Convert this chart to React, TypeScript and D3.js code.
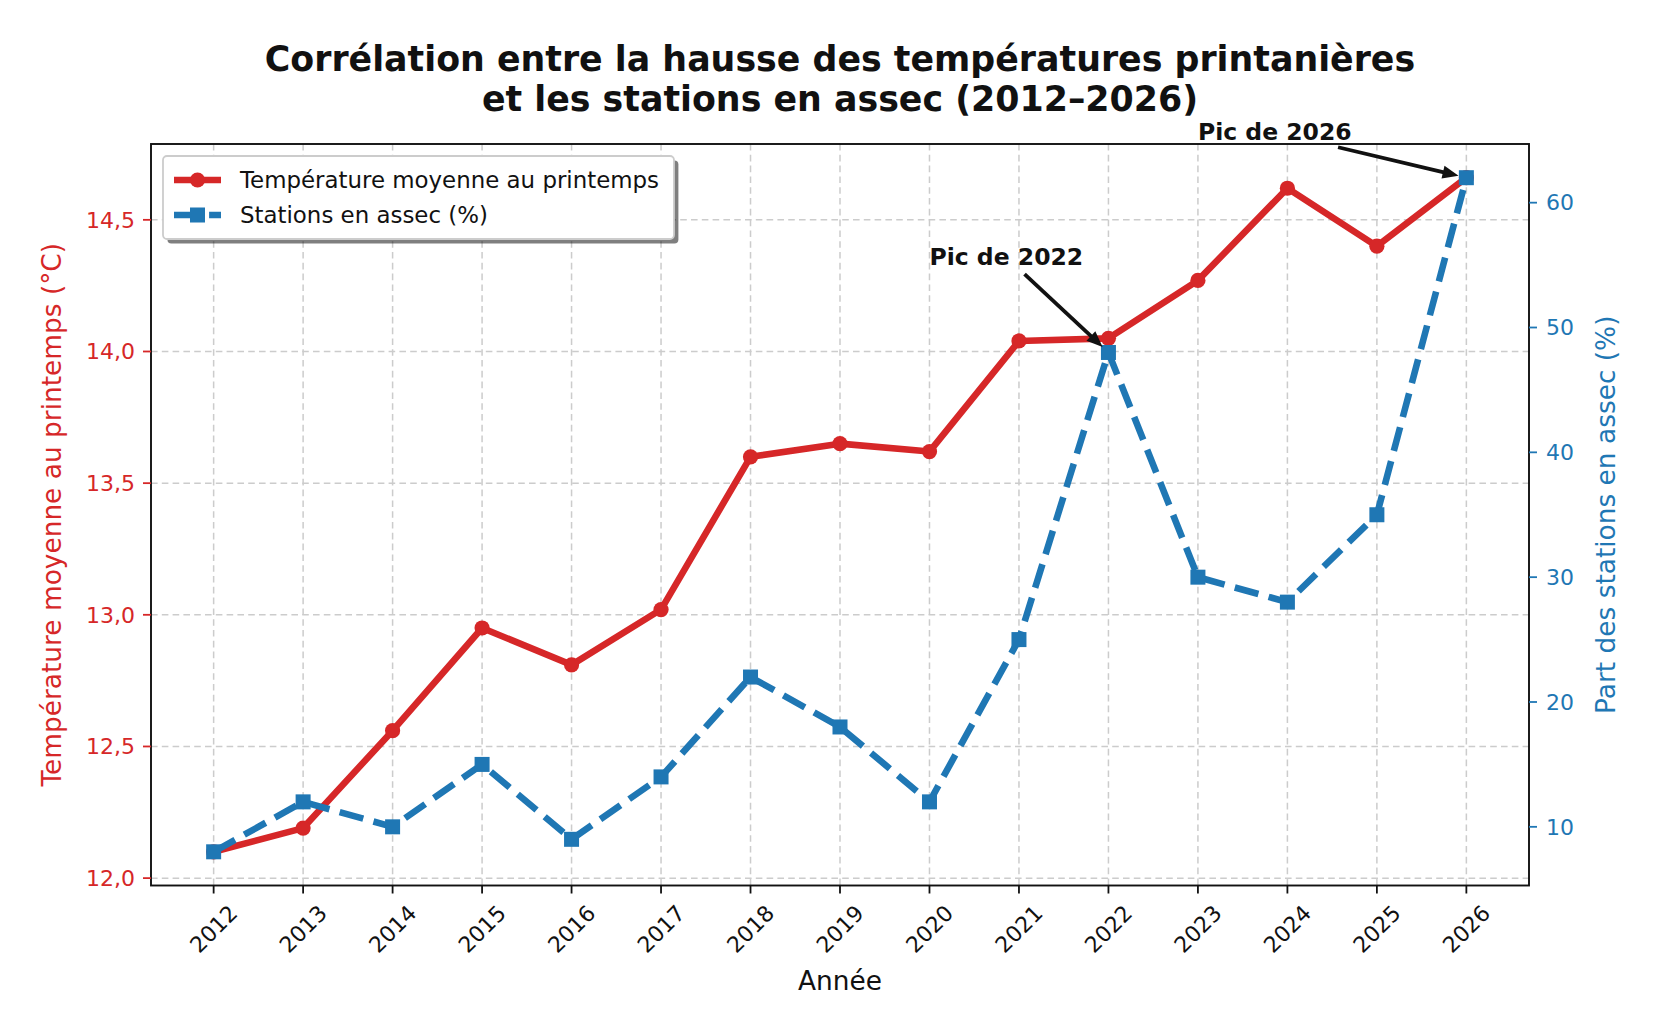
import { useRef, useEffect } from 'react'
import * as d3 from 'd3'

const years = [2012, 2013, 2014, 2015, 2016, 2017, 2018, 2019, 2020, 2021, 2022, 2023, 2024, 2025, 2026]
const temperatures = [12.1, 12.19, 12.56, 12.95, 12.81, 13.02, 13.6, 13.65, 13.62, 14.04, 14.05, 14.27, 14.62, 14.4, 14.66]
const dryStations = [8, 12, 10, 15, 9, 14, 22, 18, 12, 25, 48, 30, 28, 35, 62]
const tempTicks = [12.0, 12.5, 13.0, 13.5, 14.0, 14.5]
const dryTicks = [10, 20, 30, 40, 50, 60]
const titleLines = ['Corrélation entre la hausse des températures printanières', 'et les stations en assec (2012–2026)']
const seriesLabels = ['Température moyenne au printemps', 'Stations en assec (%)']
const annotations = [
  { label: 'Pic de 2022', year: 2022, value: 48, textYear: 2020, textValue: 55 },
  { label: 'Pic de 2026', year: 2026, value: 62, textYear: 2023, textValue: 65 },
]

const W = 1680
const H = 1030
const RED = '#d62728'
const BLUE = '#1f77b4'
const FONT = '"DejaVu Sans", Verdana, sans-serif'

// matplotlib-like 5% margins
function padded(values: number[]): [number, number] {
  const lo = d3.min(values) ?? 0
  const hi = d3.max(values) ?? 1
  const m = (hi - lo) * 0.05
  return [lo - m, hi + m]
}

export default function App() {
  const svgRef = useRef<SVGSVGElement>(null)

  useEffect(() => {
    if (!svgRef.current) return
    const svg = d3.select(svgRef.current)
    svg.selectAll('*').remove()

    const left = 151
    const right = 1529
    const top = 144
    const bottom = 885.5

    const x = d3.scaleLinear().domain(padded(years)).range([left, right])
    const yT = d3.scaleLinear().domain(padded(temperatures)).range([bottom, top])
    const yD = d3.scaleLinear().domain(padded(dryStations)).range([bottom, top])

    svg.append('rect').attr('width', W).attr('height', H).attr('fill', '#fff')

    // Grid
    const grid = svg.append('g').attr('stroke', '#cccccc').attr('stroke-width', 1.5).attr('stroke-dasharray', '6.6,4.2')
    years.forEach((yr) => {
      grid.append('line').attr('x1', x(yr)).attr('x2', x(yr)).attr('y1', top).attr('y2', bottom)
    })
    tempTicks.forEach((t) => {
      grid.append('line').attr('x1', left).attr('x2', right).attr('y1', yT(t)).attr('y2', yT(t))
    })

    // Temperature line
    const tempLine = d3
      .line<number>()
      .x((_, i) => x(years[i]))
      .y((d) => yT(d))
    svg
      .append('path')
      .datum(temperatures)
      .attr('fill', 'none')
      .attr('stroke', RED)
      .attr('stroke-width', 6.6)
      .attr('stroke-linejoin', 'round')
      .attr('d', tempLine)
    svg
      .append('g')
      .selectAll('circle')
      .data(temperatures)
      .join('circle')
      .attr('cx', (_, i) => x(years[i]))
      .attr('cy', (d) => yT(d))
      .attr('r', 7.6)
      .attr('fill', RED)

    // Dry stations line
    const dryLine = d3
      .line<number>()
      .x((_, i) => x(years[i]))
      .y((d) => yD(d))
    svg
      .append('path')
      .datum(dryStations)
      .attr('fill', 'none')
      .attr('stroke', BLUE)
      .attr('stroke-width', 6.6)
      .attr('stroke-dasharray', '24.5,10.6')
      .attr('stroke-linejoin', 'round')
      .attr('d', dryLine)
    svg
      .append('g')
      .selectAll('rect')
      .data(dryStations)
      .join('rect')
      .attr('x', (_, i) => x(years[i]) - 7.5)
      .attr('y', (d) => yD(d) - 7.5)
      .attr('width', 15)
      .attr('height', 15)
      .attr('fill', BLUE)

    // Spines
    svg
      .append('rect')
      .attr('x', left)
      .attr('y', top)
      .attr('width', right - left)
      .attr('height', bottom - top)
      .attr('fill', 'none')
      .attr('stroke', '#111')
      .attr('stroke-width', 1.9)

    // X axis ticks
    const xAxis = svg.append('g')
    years.forEach((yr) => {
      xAxis.append('line').attr('x1', x(yr)).attr('x2', x(yr)).attr('y1', bottom).attr('y2', bottom + 8).attr('stroke', '#111').attr('stroke-width', 1.8)
      xAxis
        .append('text')
        .attr('transform', `translate(${x(yr)},929) rotate(-45)`)
        .attr('text-anchor', 'middle')
        .attr('dy', '0.35em')
        .attr('font-family', FONT)
        .attr('font-size', 22)
        .attr('fill', '#111')
        .text(String(yr))
    })

    // Left axis
    const fmt = (v: number) => v.toFixed(1).replace('.', ',')
    tempTicks.forEach((t) => {
      svg.append('line').attr('x1', left - 8).attr('x2', left).attr('y1', yT(t)).attr('y2', yT(t)).attr('stroke', RED).attr('stroke-width', 1.8)
      svg
        .append('text')
        .attr('x', 135)
        .attr('y', yT(t))
        .attr('dy', '0.35em')
        .attr('text-anchor', 'end')
        .attr('font-family', FONT)
        .attr('font-size', 22)
        .attr('fill', RED)
        .text(fmt(t))
    })

    // Right axis
    dryTicks.forEach((t) => {
      svg.append('line').attr('x1', right).attr('x2', right + 8).attr('y1', yD(t)).attr('y2', yD(t)).attr('stroke', BLUE).attr('stroke-width', 1.8)
      svg
        .append('text')
        .attr('x', 1546)
        .attr('y', yD(t))
        .attr('dy', '0.35em')
        .attr('font-family', FONT)
        .attr('font-size', 22)
        .attr('fill', BLUE)
        .text(String(t))
    })

    // Axis labels
    svg
      .append('text')
      .attr('x', (left + right) / 2)
      .attr('y', 990)
      .attr('text-anchor', 'middle')
      .attr('font-family', FONT)
      .attr('font-size', 26.4)
      .attr('fill', '#111')
      .text('Année')
    svg
      .append('text')
      .attr('transform', `translate(61,${(top + bottom) / 2}) rotate(-90)`)
      .attr('text-anchor', 'middle')
      .attr('font-family', FONT)
      .attr('font-size', 26.4)
      .attr('fill', RED)
      .text('Température moyenne au printemps (°C)')
    svg
      .append('text')
      .attr('transform', `translate(1614.5,${(top + bottom) / 2}) rotate(-90)`)
      .attr('text-anchor', 'middle')
      .attr('font-family', FONT)
      .attr('font-size', 26.4)
      .attr('fill', BLUE)
      .text('Part des stations en assec (%)')

    // Title
    titleLines.forEach((line, i) => {
      svg
        .append('text')
        .attr('x', (left + right) / 2)
        .attr('y', 71 + i * 39.5)
        .attr('text-anchor', 'middle')
        .attr('font-family', FONT)
        .attr('font-weight', 'bold')
        .attr('font-size', 34.8)
        .attr('fill', '#111')
        .text(line)
    })

    // Annotations
    annotations.forEach((a) => {
      const txt = svg
        .append('text')
        .attr('x', x(a.textYear))
        .attr('y', yD(a.textValue))
        .attr('font-family', FONT)
        .attr('font-weight', 'bold')
        .attr('font-size', 23.5)
        .attr('fill', '#111')
        .text(a.label)
      const bb = (txt.node() as SVGTextElement).getBBox()
      const cx = bb.x + bb.width / 2
      const cy = bb.y + bb.height / 2
      const tx = x(a.year)
      const ty = yD(a.value)
      const dx = tx - cx
      const dy = ty - cy
      const len = Math.hypot(dx, dy)
      const ux = dx / len
      const uy = dy / len
      // clip against text bbox
      const tX = ux !== 0 ? bb.width / 2 / Math.abs(ux) : Infinity
      const tY = uy !== 0 ? bb.height / 2 / Math.abs(uy) : Infinity
      const t0 = Math.min(tX, tY) + 4.4
      const sx = cx + ux * t0
      const sy = cy + uy * t0
      const ex = tx - ux * 8
      const ey = ty - uy * 8
      const headLen = 16
      const headW = 6.5
      const bx = ex - ux * headLen
      const by = ey - uy * headLen
      svg
        .append('line')
        .attr('x1', sx)
        .attr('y1', sy)
        .attr('x2', bx + ux * 2)
        .attr('y2', by + uy * 2)
        .attr('stroke', '#111')
        .attr('stroke-width', 3.8)
      svg
        .append('path')
        .attr('d', `M${ex},${ey}L${bx - uy * headW},${by + ux * headW}L${bx + uy * headW},${by - ux * headW}Z`)
        .attr('fill', '#111')
    })

    // Legend
    const lg = svg.append('g')
    lg.append('rect').attr('x', 167.4).attr('y', 160.4).attr('width', 511).attr('height', 83).attr('rx', 4).attr('fill', 'rgba(0,0,0,0.5)')
    lg.append('rect').attr('x', 163).attr('y', 156).attr('width', 511).attr('height', 83).attr('rx', 4).attr('fill', '#fff').attr('stroke', '#cccccc').attr('stroke-width', 1.8)
    const rows = [
      { label: seriesLabels[0], color: RED, dash: null as string | null, marker: 'circle' },
      { label: seriesLabels[1], color: BLUE, dash: '24.5,10.6', marker: 'square' },
    ]
    rows.forEach((r, i) => {
      const ry = 180 + i * 35
      const ln = lg.append('line').attr('x1', 174).attr('x2', 221).attr('y1', ry).attr('y2', ry).attr('stroke', r.color).attr('stroke-width', 6.6)
      if (r.dash) ln.attr('stroke-dasharray', r.dash)
      if (r.marker === 'circle') {
        lg.append('circle').attr('cx', 197.5).attr('cy', ry).attr('r', 7.6).attr('fill', r.color)
      } else {
        lg.append('rect').attr('x', 190).attr('y', ry - 7.5).attr('width', 15).attr('height', 15).attr('fill', r.color)
      }
      lg.append('text')
        .attr('x', 240)
        .attr('y', ry)
        .attr('dy', '0.35em')
        .attr('font-family', FONT)
        .attr('font-size', 22.9)
        .attr('fill', '#111')
        .text(r.label)
    })
  }, [])

  return (
    <svg
      ref={svgRef}
      width={W}
      height={H}
      style={{ position: 'absolute', left: 0, top: 0, display: 'block' }}
    />
  )
}
